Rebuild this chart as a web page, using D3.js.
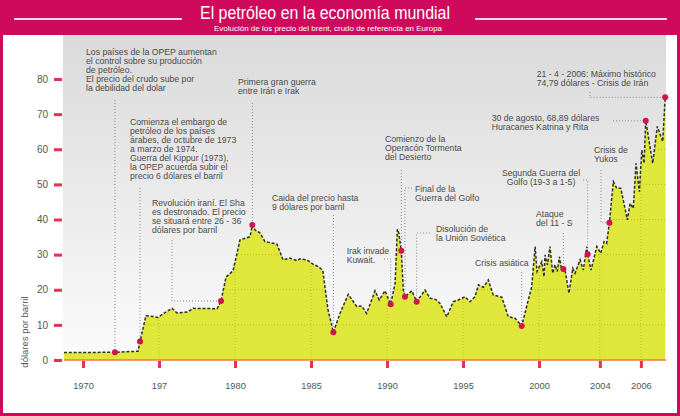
<!DOCTYPE html>
<html><head><meta charset="utf-8">
<script src="https://cdn.jsdelivr.net/npm/d3@7"></script>
<style>
html,body{margin:0;padding:0;background:#cf0a5c;}
svg{display:block;font-family:"Liberation Sans",Arial,Helvetica,sans-serif;}
</style></head><body>
<svg id="c" width="680" height="416"></svg>
<script>
// ---- data ----
const years = [1968.75,1972.1,1973.62,1973.75,1974.14,1974.6,1974.93,1975.39,1975.86,1976.18,1976.91,1977.24,1978.82,1979.08,1979.41,1979.87,1980.33,1980.99,1981.14,1981.32,1981.64,1981.97,1982.76,1983.16,1983.62,1984.08,1984.28,1984.74,1985.13,1985.46,1985.77,1986.12,1986.36,1986.47,1986.91,1987.45,1988.01,1988.34,1988.66,1989.21,1989.49,1989.87,1990.24,1990.53,1990.68,1990.77,1990.94,1991.07,1991.18,1991.63,1991.95,1992.5,1992.83,1993.22,1993.49,1993.93,1994.36,1994.69,1995.13,1995.46,1995.79,1996.01,1996.34,1996.66,1996.99,1997.55,1997.98,1998.42,1998.86,1999.52,1999.74,1999.87,2000.18,2000.33,2000.39,2000.55,2000.72,2000.9,2001.05,2001.2,2001.34,2001.49,2001.6,2001.71,2001.97,2002.22,2002.37,2002.7,2002.91,2003.14,2003.2,2003.42,2003.8,2004.06,2004.28,2004.45,2004.63,2004.89,2005.11,2005.38,2005.81,2005.99,2006.2,2006.38,2006.6,2006.76,2006.91,2007.02,2007.48,2007.78,2008.14,2008.3];
const prices = [2.1,2.2,2.5,5.3,12.6,12.4,12.1,13.5,14.7,13.4,13.7,14.7,14.6,16.8,23.6,25.4,34.2,35.1,38.4,37.0,36.2,33.7,33.0,28.5,29.0,28.3,28.8,28.5,27.3,26.6,25.6,14.2,10.0,7.9,13.3,18.7,15.2,15.4,13.3,19.7,17.1,19.7,15.9,21.8,37.2,36.2,31.1,19.9,18.0,19.7,16.6,19.9,17.6,17.2,16.1,12.3,16.6,17.1,18.0,16.6,18.0,21.4,20.7,22.8,18.5,17.9,12.3,11.9,9.7,20.9,32.3,25.2,28.0,23.7,29.9,27.1,32.3,24.7,27.1,25.2,29.4,25.6,25.9,25.6,19.0,26.1,24.7,28.5,25.6,32.3,30.1,25.6,32.3,30.4,33.7,33.2,39.1,50.8,48.9,48.9,39.9,44.6,43.2,56.0,47.9,59.8,56.0,68.1,56.0,66.5,62.2,74.79];

const eventYears  = [1972.1,1973.75,1979.08,1981.14,1986.47,1990.24,1990.94,1991.18,1991.95,1998.86,2001.6,2003.2,2004.63,2007.02,2008.3];
const eventPrices = [2.2,5.3,16.8,38.4,7.9,15.9,31.1,18.0,16.6,9.7,25.9,30.1,39.1,68.1,74.79];

const yTickValues = [0,10,20,30,40,50,60,70,80];
const gridValues  = [10,20,30,40,50,60,70];
const xTickValues = [1970,1975,1980,1985,1990,1995,2000,2004,2006.7];
const xTickLabels = ["1970","197","1980","1985","1990","1995","2000","2004","2006"];

const eventTexts = [
  ["Los países de la OPEP aumentan","el control sobre su producción","de petróleo.","El precio del crudo sube por","la debilidad del dolar"],
  ["Comienza el embargo de","petróleo de los países","árabes, de octubre de 1973","a marzo de 1974.","Guerra del Kippur (1973),","la OPEP acuerda subir el","precio 6 dólares el barril"],
  ["Revolución iraní. El Sha","es destronado. El precio","se situará entre 26 - 36","dólares por barril"],
  ["Primera gran guerra","entre Irán e Irak"],
  ["Caida del precio hasta","9 dólares por barril"],
  ["Irak invade","Kuwait."],
  ["Comienzo de la","Operacón Tormenta","del Desierto"],
  ["Final de la","Guerra del Golfo"],
  ["Disolución de","la Unión Soviética"],
  ["Crisis asiática"],
  ["Ataque","del 11 - S"],
  ["Segunda Guerra del","Golfo (19-3 a 1-5)"],
  ["Crisis de","Yukos"],
  ["30 de agosto, 68,89  dólares","Huracanes Katrina y Rita"],
  ["21 - 4 - 2006: Máximo histórico","74,79  dólares - Crisis de Irán"]
];

// ---- layout (pixels) ----
const textPos = [
  {x:86,y:55.3},{x:130,y:124.7},{x:152,y:205.7},{x:238,y:84.7},{x:272,y:200.7},
  {x:346.7,y:253.7},{x:385,y:142.3},{x:415,y:192.3},{x:436,y:232.3},{x:475,y:265.7},
  {x:536,y:217.3},{x:541,y:176.3,anchor:"middle"},{x:594,y:153},{x:491.7,y:121.3},{x:536.7,y:77.3}
];
// leader: "hv" = from (x0,y0) horizontal to dot x then vertical to dot; "vh" = vertical to dot y then horizontal
const leaders = [
  {t:"hv",x0:null,y0:100},{t:"hv",x0:null,y0:188},{t:"vh",x0:172,y0:240},{t:"hv",x0:null,y0:103},
  {t:"hv",x0:null,y0:215},{t:"hv",x0:384,y0:259},{t:"hv",x0:null,y0:170},{t:"hv",x0:412,y0:188},
  {t:"hv",x0:430,y0:233},{t:"hv",x0:null,y0:272},{t:"hv",x0:null,y0:233},{t:"hv",x0:583,y0:180},
  {t:"vh",x0:601,y0:170},{t:"vh",x0:613,y0:null},{t:"vh",x0:590,y0:92}
];

const svg = d3.select("#c");
const W = 680, H = 416;
const plotL = 64, plotR = 665.2, plotB = 360;

const x = d3.scaleLinear().domain([1968.75, 2008.3]).range([plotL, plotR]);
const y = d3.scaleLinear().domain([0, 80]).range([plotB, 79]);

const defs = svg.append("defs");
const grad = defs.append("linearGradient").attr("id","bg").attr("x1",0).attr("y1",0).attr("x2",0).attr("y2",1);
grad.append("stop").attr("offset","0%").attr("stop-color","#dadada");
grad.append("stop").attr("offset","100%").attr("stop-color","#fbfbfb");

// background
svg.append("rect").attr("width",W).attr("height",H).attr("fill","#cf0a5c");
svg.append("rect").attr("x",3).attr("y",35).attr("width",674).attr("height",378).attr("fill","#ffffff");
svg.append("rect").attr("x",63).attr("y",35).attr("width",603).attr("height",plotB-35).attr("fill","url(#bg)");

// title
svg.append("line").attr("x1",14).attr("x2",182).attr("y1",19).attr("y2",19).attr("stroke","#f6d9e6").attr("stroke-width",2);
svg.append("line").attr("x1",475).attr("x2",667).attr("y1",19).attr("y2",19).attr("stroke","#f6d9e6").attr("stroke-width",2);
svg.append("text").attr("x",325).attr("y",19).attr("text-anchor","middle").attr("fill","#fff")
  .attr("font-size",17.5).attr("textLength",250).attr("lengthAdjust","spacingAndGlyphs")
  .text("El petróleo en la economía mundial");
svg.append("text").attr("x",328).attr("y",30.5).attr("text-anchor","middle").attr("fill","#fff")
  .attr("font-size",8).text("Evolución de los precio del brent,  crudo de referencia en Europa");

// area + grid clipped
const pts = years.map((d,i)=>[d,prices[i]]);
const area = d3.area().x(d=>x(d[0])).y0(y(0)).y1(d=>y(d[1]));
const line = d3.line().x(d=>x(d[0])).y(d=>y(d[1]));

defs.append("clipPath").attr("id","ac").append("path").attr("d",area(pts));
svg.append("path").attr("d",area(pts)).attr("fill","#dfe83a");

const grid = svg.append("g").attr("clip-path","url(#ac)")
  .attr("stroke","#b9bf2a").attr("stroke-width",1).attr("stroke-dasharray","1,2");
grid.selectAll("line.h").data(gridValues).join("line").attr("class","h")
  .attr("x1",plotL).attr("x2",plotR).attr("y1",d=>y(d)).attr("y2",d=>y(d));
grid.selectAll("line.v").data(xTickValues).join("line").attr("class","v")
  .attr("x1",d=>x(d)).attr("x2",d=>x(d)).attr("y1",y(0)).attr("y2",y(80));

// baseline
svg.append("line").attr("x1",plotL).attr("x2",plotR+1).attr("y1",y(0)).attr("y2",y(0))
  .attr("stroke","#f07a45").attr("stroke-width",1.5);

// dotted leaders
const lg = svg.append("g").attr("fill","none").attr("stroke","#8a8a8a").attr("stroke-width",1).attr("stroke-dasharray","1,2");
leaders.forEach((l,i)=>{
  const dx = x(eventYears[i]), dy = y(eventPrices[i]);
  const x0 = l.x0==null ? dx : l.x0, y0 = l.y0==null ? dy : l.y0;
  const d = l.t==="hv" ? `M${x0},${y0}H${dx}V${dy}` : `M${x0},${y0}V${dy}H${dx}`;
  lg.append("path").attr("d",d);
});

// line
svg.append("path").attr("d",line(pts)).attr("fill","none").attr("stroke","#2e2e2e")
  .attr("stroke-width",1.5).attr("stroke-dasharray","3,1.8");

// event dots
svg.selectAll("circle.ev").data(eventYears).join("circle").attr("class","ev")
  .attr("cx",d=>x(d)).attr("cy",(d,i)=>y(eventPrices[i])).attr("r",3).attr("fill","#d3134f");

// y axis
const yAxis = d3.axisLeft(y).tickValues(yTickValues).tickSize(0).tickPadding(16);
const gy = svg.append("g").attr("transform",`translate(${plotL},0)`).call(yAxis);
gy.select(".domain").remove();
gy.selectAll("text").attr("fill","#555").attr("font-size",10).attr("font-family","Liberation Sans, Arial, sans-serif");
gy.selectAll(".tick").append("rect").attr("x",-10).attr("y",-1.5).attr("width",8).attr("height",3).attr("fill","#e5334f");

// x axis
const xAxis = d3.axisBottom(x).tickValues(xTickValues).tickSize(0).tickPadding(22)
  .tickFormat((d,i)=>xTickLabels[i]);
const gx = svg.append("g").attr("transform",`translate(0,${plotB})`).call(xAxis);
gx.select(".domain").remove();
gx.selectAll("text").attr("fill","#555").attr("font-size",9.3).attr("font-family","Liberation Sans, Arial, sans-serif");
gx.selectAll(".tick").append("rect").attr("x",-1.5).attr("y",1).attr("width",3).attr("height",7).attr("fill","#e5334f");

// y label
svg.append("text").attr("transform","translate(28,332) rotate(-90)").attr("text-anchor","middle")
  .attr("fill","#555").attr("font-size",9.5).text("dólares por barril");

// annotations
const ag = svg.append("g").attr("fill","#4a4a4a").attr("font-size",8.7);
eventTexts.forEach((lines,i)=>{
  const p = textPos[i];
  const t = ag.append("text").attr("x",p.x).attr("y",p.y).attr("text-anchor",p.anchor||"start");
  lines.forEach((s,j)=>t.append("tspan").attr("x",p.x).attr("dy",j===0?0:9).text(s));
});
</script>
</body></html>
